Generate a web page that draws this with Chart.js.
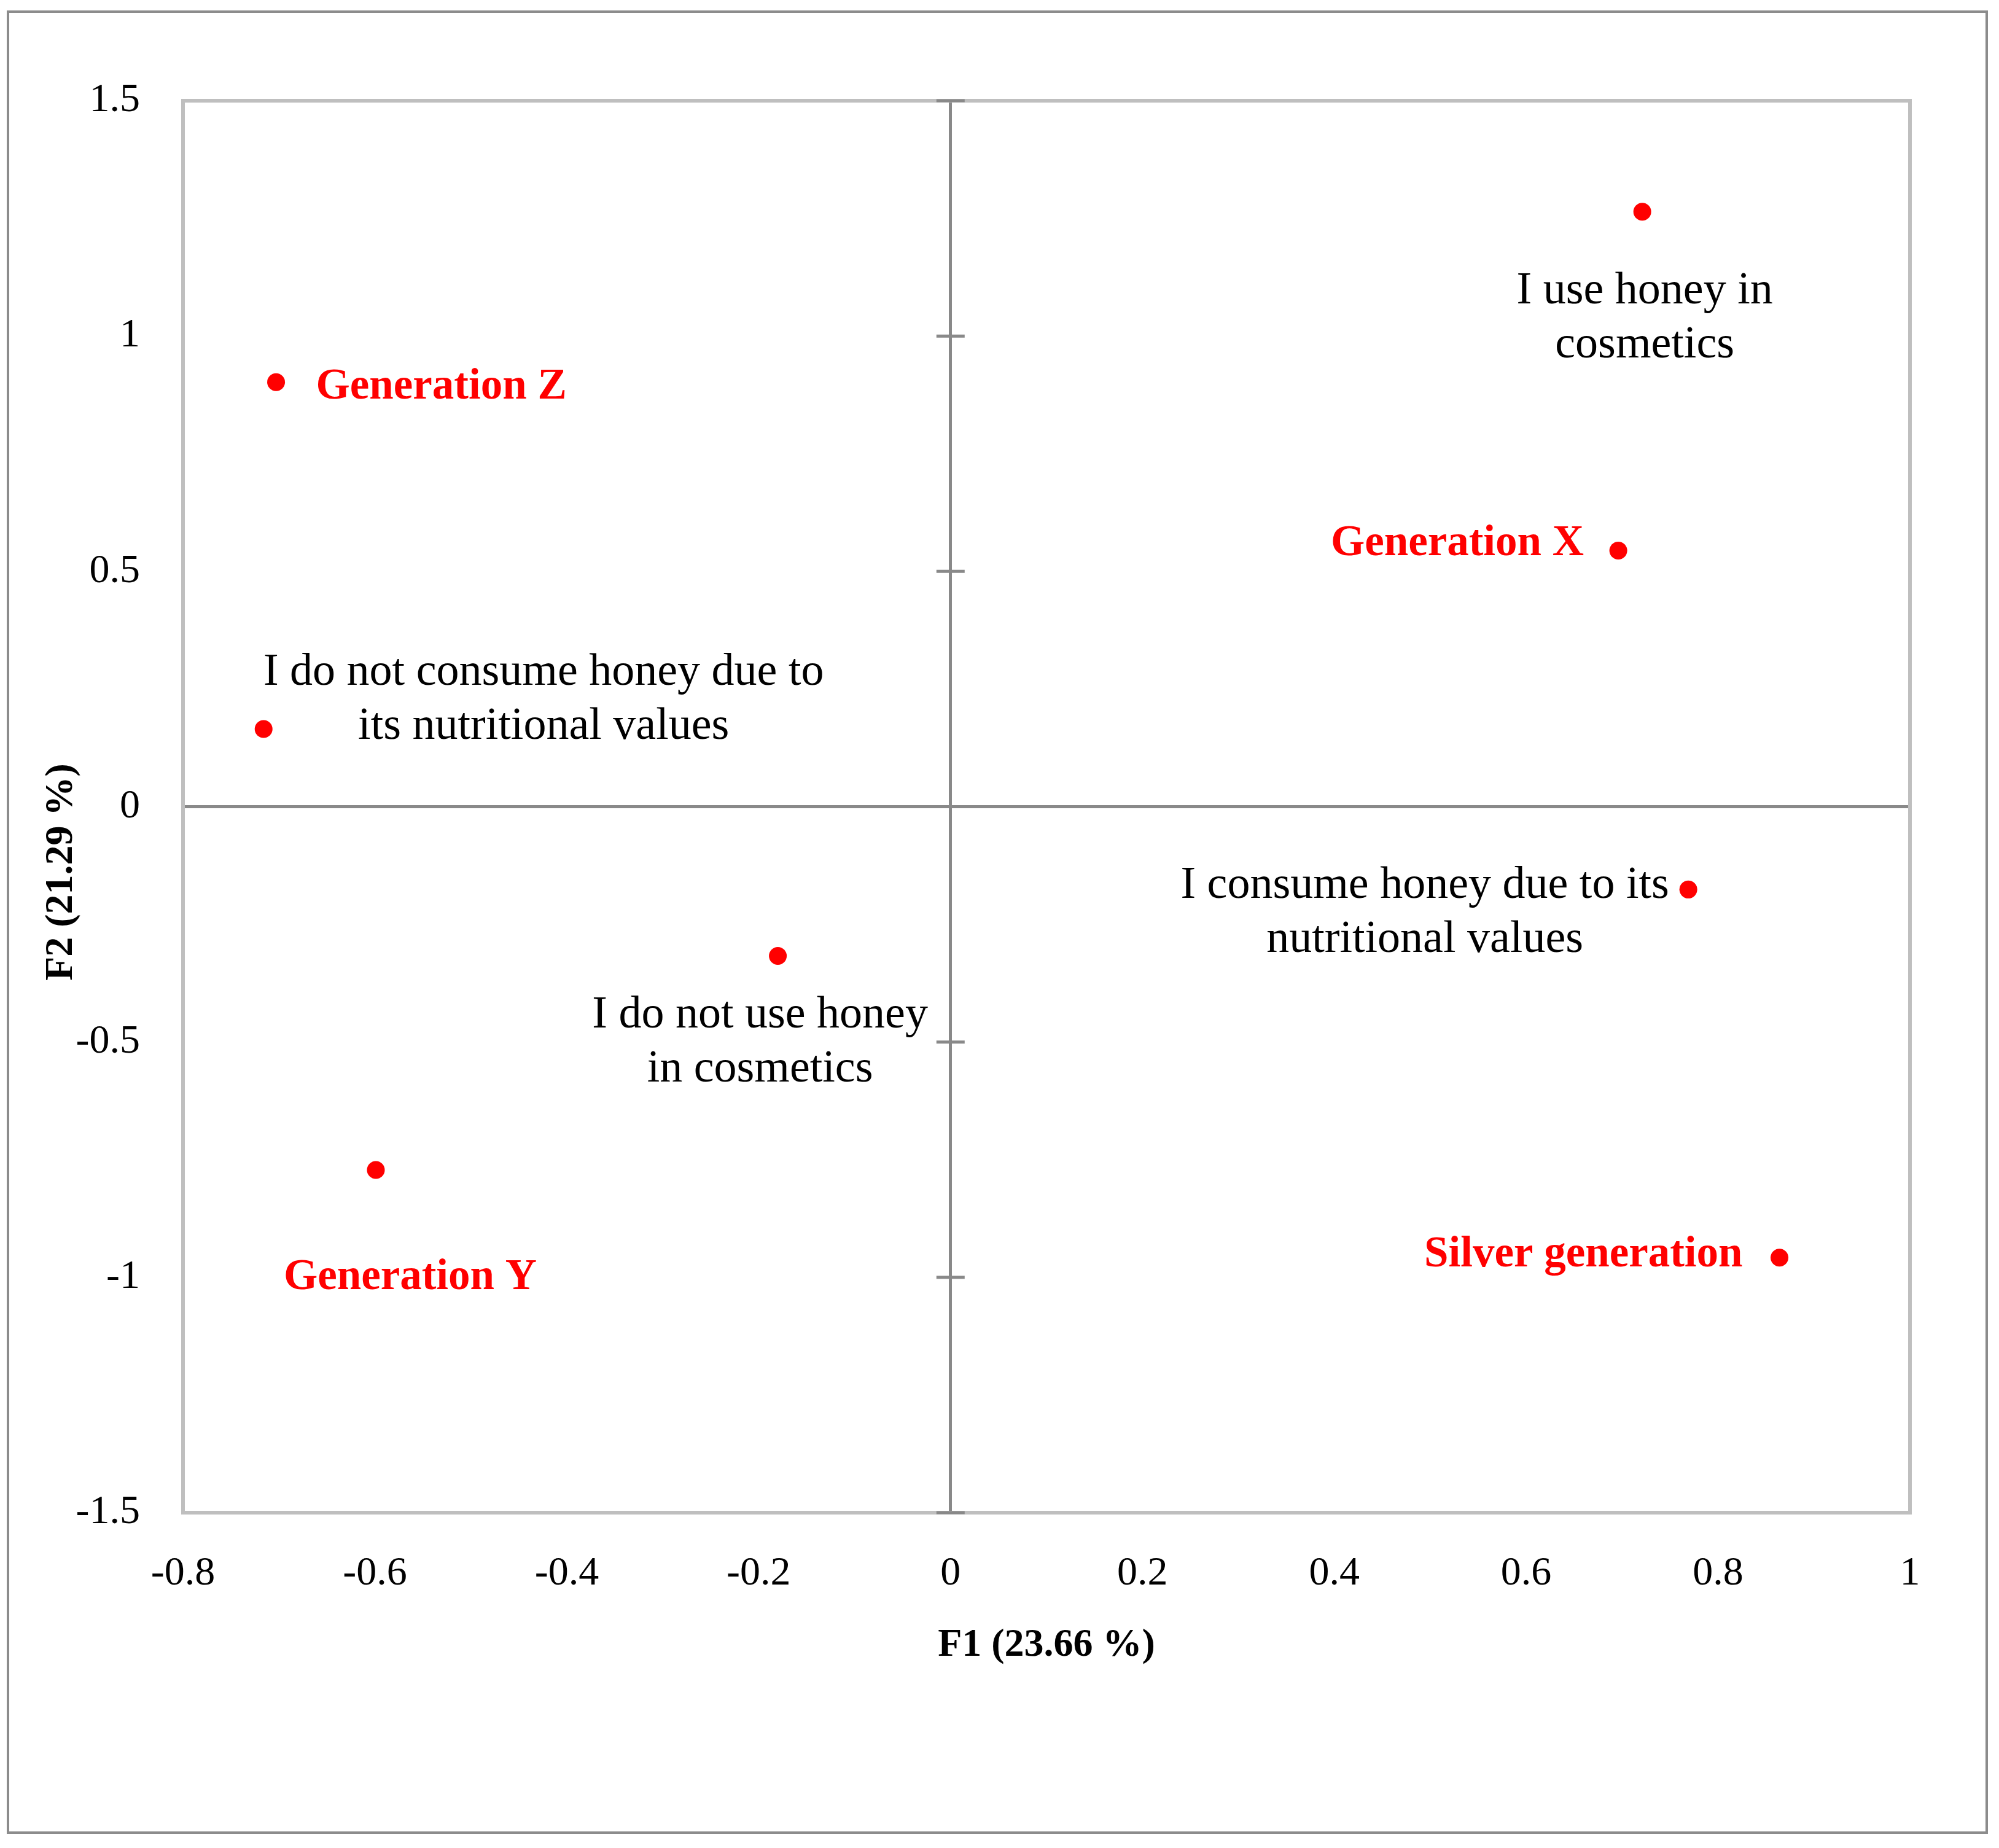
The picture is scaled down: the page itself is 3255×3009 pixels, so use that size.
<!DOCTYPE html>
<html>
<head>
<meta charset="utf-8">
<script src="https://cdn.jsdelivr.net/npm/chart.js@4/dist/chart.umd.min.js"></script>
<style>
html,body{margin:0;padding:0;background:#ffffff;}
canvas{display:block;}
</style>
</head>
<body>
<canvas id="c" width="3255" height="3009"></canvas>
<script>
// ---- data ----
const pointNames = [
  'Generation Z',
  'I do not consume honey due to its nutritional values',
  'Generation X',
  'I use honey in cosmetics',
  'I consume honey due to its nutritional values',
  'I do not use honey in cosmetics',
  'Generation Y',
  'Silver generation'
];
const f1Values = [-0.703, -0.716, 0.696, 0.721, 0.769, -0.180, -0.599, 0.864];
const f2Values = [0.902, 0.165, 0.544, 1.264, -0.176, -0.317, -0.772, -0.958];
const pointIsGeneration = [true, false, true, false, false, false, true, true];
const pointLabelLines = [
  ['Generation Z'],
  ['I do not consume honey due to', 'its nutritional values'],
  ['Generation X'],
  ['I use honey in', 'cosmetics'],
  ['I consume honey due to its', 'nutritional values'],
  ['I do not use honey', 'in cosmetics'],
  ['Generation Y'],
  ['Silver generation']
];
const xTickValues = [-0.8, -0.6, -0.4, -0.2, 0, 0.2, 0.4, 0.6, 0.8, 1];
const yTickValues = [-1.5, -1, -0.5, 0, 0.5, 1, 1.5];
const xTitle = 'F1 (23.66 %)';
const yTitle = 'F2 (21.29 %)';

// ---- layout / style (pixel offsets of labels relative to their point) ----
const labelLayout = [
  {dx: 65, dy: 8, align: 'left'},
  {dx: 456, dy: -91, align: 'center'},
  {dx: -56, dy: -11, align: 'right'},
  {dx: 4, dy: 130, align: 'center'},
  {dx: -429, dy: -6, align: 'center'},
  {dx: -29, dy: 97, align: 'center'},
  {dx: 56, dy: 176, align: 'center'},
  {dx: -60, dy: -4, align: 'right'}
];
const FONT = "'Liberation Serif', 'Times New Roman', serif";
const LINE_GAP = 88;

const decor = {
  id: 'decor',
  beforeDraw(chart) {
    const c = chart.ctx;
    c.save();
    c.fillStyle = '#ffffff';
    c.fillRect(0, 0, chart.width, chart.height);
    c.strokeStyle = '#8c8c8c';
    c.lineWidth = 4;
    c.strokeRect(13, 19, 3222, 2965);
    c.restore();
  },
  beforeDatasetsDraw(chart) {
    const c = chart.ctx;
    const a = chart.chartArea;
    const xs = chart.scales.x, ys = chart.scales.y;
    c.save();
    // plot frame
    c.strokeStyle = '#bfbfbf';
    c.lineWidth = 6;
    c.strokeRect(a.left, a.top, a.right - a.left, a.bottom - a.top);
    // cross ticks on the vertical zero axis
    const x0 = xs.getPixelForValue(0);
    c.strokeStyle = '#898989';
    c.lineWidth = 5;
    c.beginPath();
    yTickValues.forEach(v => {
      const y = ys.getPixelForValue(v);
      c.moveTo(x0 - 23, y);
      c.lineTo(x0 + 23, y);
    });
    c.stroke();
    c.restore();
  },
  afterDatasetsDraw(chart) {
    const c = chart.ctx;
    const xs = chart.scales.x, ys = chart.scales.y;
    c.save();
    c.textBaseline = 'middle';
    pointLabelLines.forEach((lines, i) => {
      const px = xs.getPixelForValue(f1Values[i]);
      const py = ys.getPixelForValue(f2Values[i]);
      const L = labelLayout[i];
      if (pointIsGeneration[i]) {
        c.font = 'bold 71px ' + FONT;
        c.fillStyle = '#ff0000';
      } else {
        c.font = '74px ' + FONT;
        c.fillStyle = '#000000';
      }
      c.textAlign = L.align;
      lines.forEach((t, k) => {
        c.fillText(t, px + L.dx, py + L.dy + k * LINE_GAP);
      });
    });
    // y axis title
    c.translate(100, 1420);
    c.rotate(-Math.PI / 2);
    c.font = 'bold 64px ' + FONT;
    c.fillStyle = '#000000';
    c.textAlign = 'center';
    c.fillText(yTitle, 0, 0);
    c.restore();
  }
};

const gridColor = ctx => (ctx.tick && ctx.tick.value === 0) ? '#898989' : 'rgba(0,0,0,0)';

new Chart(document.getElementById('c'), {
  type: 'scatter',
  data: {
    datasets: [{
      data: f1Values.map((x, i) => ({x: x, y: f2Values[i]})),
      backgroundColor: '#ff0000',
      borderWidth: 0,
      pointRadius: 14.5,
      pointHoverRadius: 14.5
    }]
  },
  options: {
    responsive: false,
    devicePixelRatio: 1,
    animation: false,
    events: [],
    layout: {padding: {left: 0, top: 164, right: 3255 - 3110, bottom: 0}},
    plugins: {legend: {display: false}, tooltip: {enabled: false}},
    scales: {
      x: {
        type: 'linear',
        min: -0.8, max: 1,
        afterBuildTicks: s => { s.ticks = xTickValues.map(v => ({value: v})); },
        afterFit: s => { s.height = 3009 - 2463; },
        grid: {color: gridColor, lineWidth: 5, drawTicks: false},
        border: {display: false},
        ticks: {
          font: {family: FONT, size: 66},
          color: '#000000',
          padding: 60,
          maxRotation: 0,
          autoSkip: false,
          callback: v => String(Math.round(v * 10) / 10)
        },
        title: {
          display: true,
          text: xTitle,
          font: {family: FONT, size: 64, weight: 'bold'},
          color: '#000000',
          padding: {top: 0, bottom: 291}
        }
      },
      y: {
        type: 'linear',
        min: -1.5, max: 1.5,
        afterBuildTicks: s => { s.ticks = yTickValues.map(v => ({value: v})); },
        afterFit: s => { s.width = 298; },
        grid: {color: gridColor, lineWidth: 5, drawTicks: false},
        border: {display: false},
        ticks: {
          font: {family: FONT, size: 66},
          color: '#000000',
          padding: 70,
          autoSkip: false,
          callback: v => String(Math.round(v * 10) / 10)
        }
      }
    }
  },
  plugins: [decor]
});
</script>
</body>
</html>
